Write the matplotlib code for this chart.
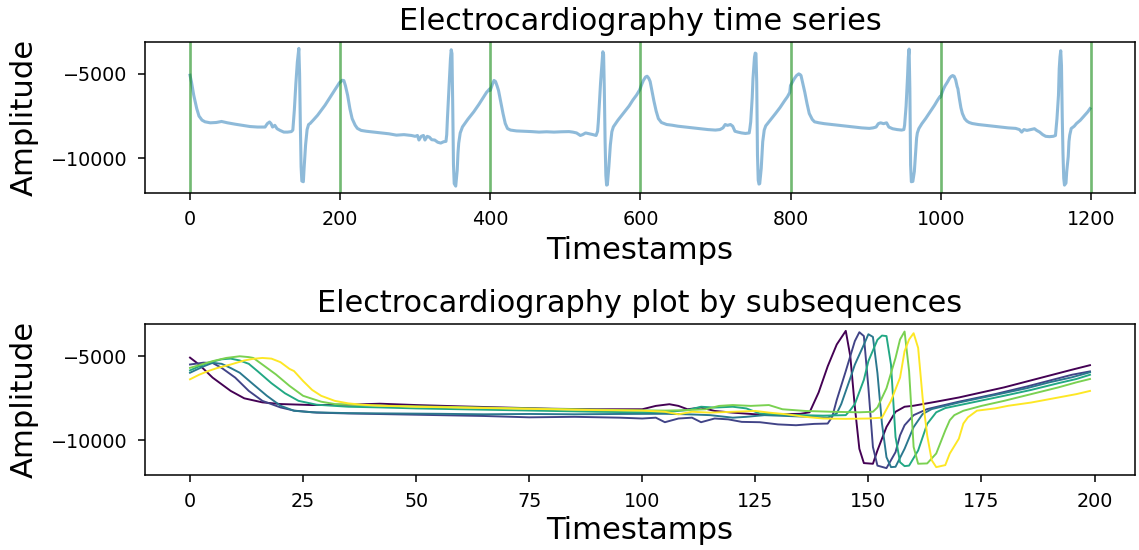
import numpy as np
import matplotlib
matplotlib.use("Agg")
import matplotlib.pyplot as plt

# Window length and window start timestamps
window_len = 200
window_starts = [0, 200, 400, 600, 800, 1000]

# Keypoints: local offset within each 200-sample window, amplitude
w0_x = [0, 2, 5, 9, 12, 16, 20, 27, 35, 42, 50, 60, 70, 80, 90, 100, 103, 106, 108, 110, 113, 116, 120, 125, 130, 135,
        137, 139, 141, 143, 145, 146, 147, 148, 149, 151, 152, 154, 156, 158, 160, 165, 170, 175, 180, 185, 190, 195, 199]
w0_y = [-5080, -5490, -6270, -7060, -7500, -7740, -7840, -7900, -7880, -7820, -7900, -7980, -8050, -8120, -8150, -8150,
        -7950, -7850, -7950, -8150, -8050, -8250, -8350, -8450, -8450, -8420,
        -8330, -7150, -5600, -4300, -3490, -5000, -8000, -10500, -11350, -11390, -10600, -9200, -8300, -8000, -7940,
        -7700, -7450, -7150, -6850, -6500, -6150, -5800, -5530]

w1_x = [0, 3, 5, 7, 10, 13, 16, 20, 23, 28, 35, 45, 55, 65, 75, 85, 95, 100, 103, 105, 108, 111, 113, 116, 119, 122,
        126, 130, 134, 138, 141, 142, 143, 145, 147, 148, 149, 150, 151, 152, 154, 156, 157, 158, 160, 163, 170, 178,
        185, 190, 195, 199]
w1_y = [-5490, -5380, -5400, -5690, -6270, -7060, -7650, -8040, -8230, -8350, -8400, -8450, -8500, -8550, -8630, -8600,
        -8650, -8700, -8650, -8920, -8700, -8650, -8920, -8700, -8750, -8900,
        -8920, -9050, -9100, -9020, -9000, -8600, -7600, -5880, -4100, -3570, -3800, -6860, -10390, -11500, -11650,
        -10700, -9700, -9100, -8500, -8140, -7700, -7250,
        -6800, -6450, -6100, -5900]

w2_x = [0, 3, 5, 7, 9, 11, 14, 17, 20, 23, 27, 35, 45, 55, 65, 75, 85, 95, 105, 110, 115, 120, 123, 127, 132, 137,
        141, 143, 144, 146, 147, 149, 150, 151, 152, 153, 154, 155, 156, 158, 160, 162, 164, 170, 178, 185, 190, 195,
        199]
w2_y = [-5980, -5600, -5390, -5450, -5700, -5980, -6670, -7350, -7940, -8240, -8330, -8380, -8400, -8420, -8450,
        -8430, -8450, -8430, -8420, -8450, -8500, -8650, -8600, -8500, -8550, -8600,
        -8650, -8400, -7840, -6300, -5500, -4310, -3690, -3850, -6000, -9000, -11000, -11590, -11570, -10500, -9210,
        -8430, -8140, -7750, -7300, -6900, -6550, -6250,
        -5950]

w3_x = [0, 2, 4, 7, 9, 11, 13, 15, 18, 21, 24, 28, 35, 42, 50, 60, 70, 80, 90, 100, 106, 110, 113, 116, 120, 123,
        126, 130, 135, 140, 145, 146, 147, 149, 150, 152, 153, 154, 155, 156, 157, 158, 159, 161, 163, 165, 167, 172,
        180, 186, 192, 196, 199]
w3_y = [-5840, -5600, -5390, -5180, -5140, -5250, -5450, -5900, -6600, -7200, -7650, -7880, -8000, -8040, -8100,
        -8150, -8200, -8250, -8300, -8330, -8300, -8200, -8000, -8050, -8000, -8100,
        -8400, -8450, -8500, -8530, -8500, -8200, -7840, -6400, -5290, -4020, -3770, -3800, -5500, -9800, -11300,
        -11530, -11500, -10600, -9020, -8330, -8080, -7800,
        -7350, -7000, -6600, -6350, -6100]

w4_x = [0, 3, 5, 8, 11, 13, 14, 16, 19, 22, 25, 29, 32, 38, 45, 55, 65, 75, 85, 95, 105, 110, 114, 117, 120, 124,
        128, 131, 136, 142, 148, 151, 152, 154, 156, 157, 158, 159, 160, 161, 163, 165, 167, 168, 169, 171, 175, 180,
        186, 192, 196, 199]
w4_y = [-5690, -5450, -5290, -5100, -5000, -5050, -5100, -5490, -6080, -6760, -7350, -7700, -7840, -7900, -7950,
        -8000, -8050, -8100, -8150, -8200, -8230, -8200, -8150, -7950, -7900, -7950,
        -7900, -8150, -8250, -8300, -8330, -8300, -8040, -6900, -5100, -4000, -3530, -5880, -10390, -11390, -11370,
        -10780, -9410, -8800, -8500, -8240, -7950, -7650,
        -7250, -6850, -6550, -6350]

w5_x = [0, 2, 4, 6, 9, 12, 14, 16, 18, 20, 22, 23, 25, 27, 29, 32, 35, 38, 42, 50, 60, 70, 80, 90, 100, 105, 108,
        111, 115, 120, 125, 128, 132, 136, 140, 145, 150, 153, 155, 157, 158, 159, 160, 161, 162, 163, 164, 165, 167,
        168, 170, 171, 172, 174, 178, 181, 186, 192, 196, 199]
w5_y = [-6370, -6100, -5880, -5700, -5490, -5250, -5150, -5100, -5140, -5350, -5750, -5880, -6470, -7000, -7350,
        -7650, -7800, -7880, -7940, -8000, -8050, -8100, -8150, -8200, -8230, -8300, -8450,
        -8300, -8350, -8300, -8250, -8350, -8450, -8600, -8700, -8720, -8700, -8650, -7650, -6270, -4700, -4000,
        -3630, -4500, -7500, -9700, -11180, -11590, -11470,
        -10780, -9900, -9000, -8630, -8235, -8100, -7940, -7750, -7450, -7250, -7060]

window_x = [w0_x, w1_x, w2_x, w3_x, w4_x, w5_x]
window_y = [w0_y, w1_y, w2_y, w3_y, w4_y, w5_y]

# Full series: windows placed end to end
ts = np.concatenate([np.array(wx) + s for wx, s in zip(window_x, window_starts)])
amp = np.concatenate([np.array(wy, dtype=float) for wy in window_y])

boundaries = window_starts + [window_starts[-1] + window_len]

S = 1.38  # rendering scale of the reference
plt.rcParams.update({
    "axes.linewidth": 0.8 * S,
    "xtick.major.size": 5.0, "ytick.major.size": 5.0,
    "xtick.major.width": 0.8 * S, "ytick.major.width": 0.8 * S,
    "xtick.major.pad": 7.0, "ytick.major.pad": 7.4,
    "axes.titlepad": 6.0 * S,
})

fig = plt.figure(figsize=(11.39, 5.5), dpi=100)
ax1 = fig.add_axes([145 / 1139, 1 - 193 / 550, 990 / 1139, 151.5 / 550])
ax2 = fig.add_axes([145 / 1139, 1 - 475 / 550, 990 / 1139, 151 / 550])

tick_fs = 10 * S
label_fs = 16 * S
title_fs = 15.8 * S

ax1.plot(ts, amp, color="C0", alpha=0.5, lw=1.6 * S)
for b in boundaries:
    ax1.axvline(b, color="g", alpha=0.55, lw=1.4 * S)
ax1.set_title("Electrocardiography time series", fontsize=title_fs)
ax1.set_xlabel("Timestamps", fontsize=label_fs, labelpad=5.0)
ax1.set_ylabel("Amplitude", fontsize=label_fs, labelpad=9.0)
ax1.set_xticks([0, 200, 400, 600, 800, 1000, 1200])
ax1.set_yticks([-5000, -10000])
ax1.tick_params(labelsize=tick_fs)

colors = plt.cm.viridis(np.linspace(0, 1, len(window_x)))
for wx, wy, c in zip(window_x, window_y, colors):
    ax2.plot(wx, wy, color=c, lw=1.0 * S)
ax2.set_title("Electrocardiography plot by subsequences", fontsize=title_fs)
ax2.set_xlabel("Timestamps", fontsize=label_fs, labelpad=4.0)
ax2.set_ylabel("Amplitude", fontsize=label_fs, labelpad=9.0)
ax2.set_xticks([0, 25, 50, 75, 100, 125, 150, 175, 200])
ax2.set_yticks([-5000, -10000])
ax2.tick_params(labelsize=tick_fs)

fig.savefig("out.png", dpi=100)
